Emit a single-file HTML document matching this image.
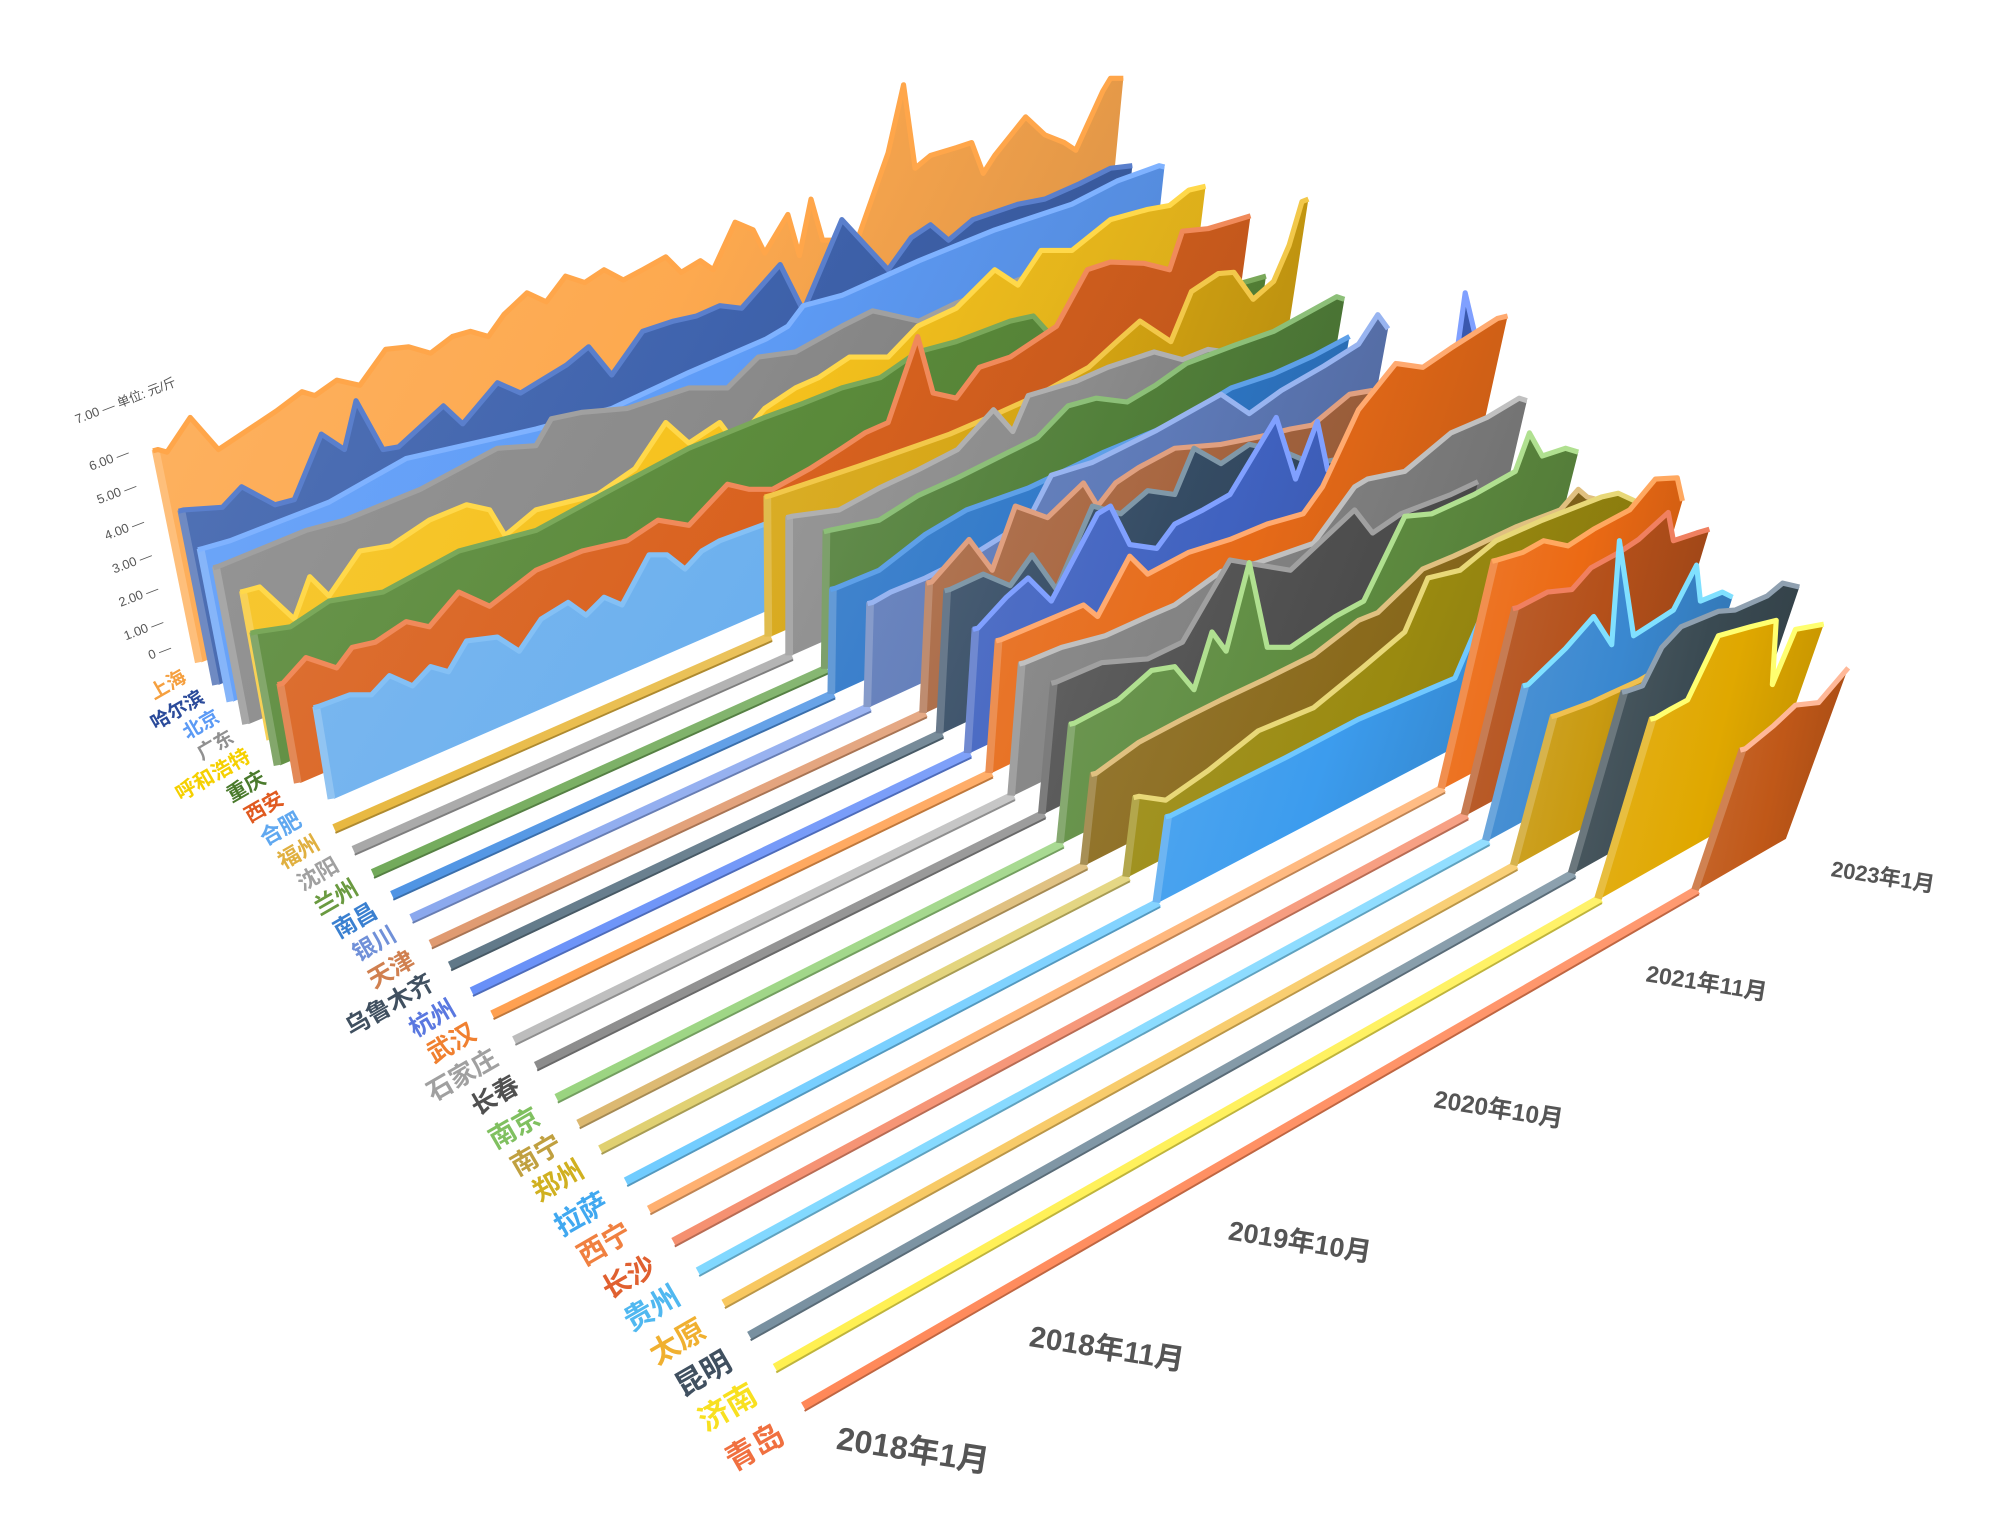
<!DOCTYPE html>
<html><head><meta charset="utf-8">
<style>
html,body{margin:0;padding:0;background:#fff;}
svg{display:block;}
text{font-family:"Liberation Sans","Noto Sans CJK SC",sans-serif;}
</style></head>
<body>
<svg id="c" xmlns="http://www.w3.org/2000/svg" width="2005" height="1522" viewBox="0 0 1560 1185" preserveAspectRatio="none">
<defs id="defs"></defs>
<g id="g"></g>
<g fill="#555" font-size="10">
<text transform="translate(60,330) rotate(-21)">7.00 —  单位: 元/斤</text>
<text text-anchor="end" transform="translate(101,355) rotate(-21)">6.00 —</text>
<text text-anchor="end" transform="translate(107,381) rotate(-21)">5.00 —</text>
<text text-anchor="end" transform="translate(113,409) rotate(-21)">4.00 —</text>
<text text-anchor="end" transform="translate(119,435) rotate(-21)">3.00 —</text>
<text text-anchor="end" transform="translate(124,461) rotate(-21)">2.00 —</text>
<text text-anchor="end" transform="translate(128,487) rotate(-21)">1.00 —</text>
<text text-anchor="end" transform="translate(134,507) rotate(-21)">0 —</text>
</g>
<g fill="#555" font-weight="bold">
<text font-size="25" transform="translate(650,1128) rotate(9)">2018年1月</text>
<text font-size="23" transform="translate(800,1048) rotate(9)">2018年11月</text>
<text font-size="21" transform="translate(955,965) rotate(9)">2019年10月</text>
<text font-size="19" transform="translate(1115,862) rotate(9)">2020年10月</text>
<text font-size="18" transform="translate(1280,764) rotate(9)">2021年11月</text>
<text font-size="17" transform="translate(1424,682) rotate(9)">2023年1月</text>
</g>
<g id="labels" font-weight="bold">
<text fill="#f5a040" font-size="15" text-anchor="end" transform="translate(146,530) rotate(-30)">上海</text>
<text fill="#2a4a9a" font-size="15" text-anchor="end" transform="translate(160,546) rotate(-30)">哈尔滨</text>
<text fill="#5b9af5" font-size="15" text-anchor="end" transform="translate(172,561) rotate(-30)">北京</text>
<text fill="#909090" font-size="15" text-anchor="end" transform="translate(183,577) rotate(-30)">广东</text>
<text fill="#f5d000" font-size="16" text-anchor="end" transform="translate(196,592) rotate(-30)">呼和浩特</text>
<text fill="#4a7a2c" font-size="16" text-anchor="end" transform="translate(208,609) rotate(-30)">重庆</text>
<text fill="#e05a20" font-size="16" text-anchor="end" transform="translate(222,625) rotate(-30)">西安</text>
<text fill="#60a8f0" font-size="17" text-anchor="end" transform="translate(236,642) rotate(-30)">合肥</text>
<text fill="#e0b040" font-size="17" text-anchor="end" transform="translate(250,660) rotate(-30)">福州</text>
<text fill="#a0a0a0" font-size="17" text-anchor="end" transform="translate(265,677) rotate(-30)">沈阳</text>
<text fill="#6a9a40" font-size="18" text-anchor="end" transform="translate(280,695) rotate(-30)">兰州</text>
<text fill="#3a80d0" font-size="18" text-anchor="end" transform="translate(295,713) rotate(-30)">南昌</text>
<text fill="#7090d8" font-size="18" text-anchor="end" transform="translate(310,731) rotate(-30)">银川</text>
<text fill="#d08050" font-size="19" text-anchor="end" transform="translate(324,751) rotate(-30)">天津</text>
<text fill="#405060" font-size="19" text-anchor="end" transform="translate(339,769) rotate(-30)">乌鲁木齐</text>
<text fill="#5a78e0" font-size="19" text-anchor="end" transform="translate(356,789) rotate(-30)">杭州</text>
<text fill="#f08030" font-size="20" text-anchor="end" transform="translate(372,808) rotate(-30)">武汉</text>
<text fill="#a0a0a0" font-size="20" text-anchor="end" transform="translate(389,828) rotate(-30)">石家庄</text>
<text fill="#505050" font-size="20" text-anchor="end" transform="translate(406,849) rotate(-30)">长春</text>
<text fill="#80c060" font-size="21" text-anchor="end" transform="translate(422,874) rotate(-30)">南京</text>
<text fill="#c0a040" font-size="21" text-anchor="end" transform="translate(439,895) rotate(-30)">南宁</text>
<text fill="#d0b020" font-size="21" text-anchor="end" transform="translate(456,915) rotate(-30)">郑州</text>
<text fill="#40a8f0" font-size="22" text-anchor="end" transform="translate(475,941) rotate(-30)">拉萨</text>
<text fill="#f08040" font-size="22" text-anchor="end" transform="translate(493,964) rotate(-30)">西宁</text>
<text fill="#e06030" font-size="22" text-anchor="end" transform="translate(512,990) rotate(-30)">长沙</text>
<text fill="#50b8f0" font-size="23" text-anchor="end" transform="translate(531,1014) rotate(-30)">贵州</text>
<text fill="#f0b030" font-size="23" text-anchor="end" transform="translate(551,1040) rotate(-30)">太原</text>
<text fill="#405060" font-size="23" text-anchor="end" transform="translate(571,1065) rotate(-30)">昆明</text>
<text fill="#f8e020" font-size="24" text-anchor="end" transform="translate(591,1091) rotate(-30)">济南</text>
<text fill="#f07040" font-size="24" text-anchor="end" transform="translate(612,1122) rotate(-30)">青岛</text>
</g>
</svg>
<script>
(function(){
var NS="http://www.w3.org/2000/svg";
var VP=[616,2777];
var S=[[156,516],[173,532],[182,546],[193,564],[210,577],[220,595],[235,609],[246,628],[260,645],[275,662],[290,680],[305,697],[320,715],[335,735],[350,752],[367,772],[383,790],[400,810],[417,830],[433,855],[450,875],[467,895],[487,920],[505,942],[524,967],[543,990],[563,1015],[583,1040],[603,1065],[625,1095]];
var C=[
["#fda94f","#ffa64a",null],["#3f63ad","#5a7fcc",null],["#5e9cf7","#7fb2ff",null],["#8a8a8a","#a0a0a0",null],
["#f6c21d","#ffd84a",null],["#5a8a3a","#7aa85a",null],["#d9621f","#f08a5a",null],["#6cb0ee","#84c0f5",null],
["#d6a512","#f2c84a","#e8b840"],["#8b8b8b","#b0b0b0","#a8a8a8"],["#52803a","#8cbf78","#72aa5a"],["#2f78c8","#5ea0e8","#4f94e4"],
["#5e7ab8","#98b4f0","#8aa8ee"],["#a86640","#e0a080","#e09a70"],["#354c64","#8098a8","#607888"],["#4062c0","#80a0ff","#6890f8"],
["#e66a18","#ffaa70","#ffa050"],["#808080","#c0c0c0","#bdbdbd"],["#505050","#a0a0a0","#8c8c8c"],["#5e8c40","#b0e090","#9ad480"],
["#8a6a1c","#e0c080","#dcb870"],["#9a8a10","#e8d878","#e0d070"],["#3c9cee","#70c8ff","#70ccff"],["#ec6a14","#ffa860","#ffb070"],
["#b4501a","#f08060","#f59070"],["#3a88d0","#80e0ff","#80d8ff"],["#c99a10","#f0c050","#f8c860"],["#3a4a52","#8fa0b0","#7890a0"],
["#e0a800","#ffff70","#fff050"],["#c05818","#ffb898","#ff8858"]];
var P=[
[[123,350],[130,352],[148,325],[170,350],[200,330],[215,320],[235,305],[245,308],[262,296],[280,300],[300,272],[318,270],[335,275],[352,262],[366,258],[380,262],[392,245],[410,228],[425,235],[440,215],[455,220],[470,210],[485,218],[500,210],[518,200],[530,212],[545,203],[555,210],[572,173],[586,179],[595,197],[613,167],[622,199],[631,155],[640,187],[667,187],[691,119],[703,66],[712,131],[724,121],[744,115],[756,111],[765,135],[774,121],[798,91],[813,105],[828,111],[837,117],[858,71],[864,61],[874,61]],
[[143,397],[173,395],[188,379],[214,393],[229,389],[250,338],[268,350],[277,312],[298,350],[310,348],[345,316],[360,330],[387,298],[405,306],[441,284],[458,270],[476,292],[500,258],[524,250],[542,246],[560,238],[577,240],[607,206],[625,242],[655,171],[691,210],[709,185],[724,175],[738,187],[757,171],[792,159],[813,155],[840,143],[864,131],[881,129]],
[[158,427],[179,421],[256,391],[316,357],[417,334],[476,318],[536,290],[596,264],[613,254],[625,238],[655,230],[715,203],[774,179],[834,159],[869,141],[902,129],[906,130]],
[[170,441],[238,413],[268,405],[327,381],[387,349],[417,347],[429,326],[453,321],[488,318],[536,302],[566,302],[590,278],[619,274],[655,254],[679,242],[715,250],[744,236],[800,215],[850,195],[895,170],[910,160],[922,155]],
[[191,460],[202,457],[229,482],[241,449],[256,464],[280,429],[304,425],[334,405],[363,393],[381,397],[393,417],[417,397],[465,385],[494,365],[518,329],[536,345],[560,329],[572,345],[595,318],[619,302],[637,294],[661,278],[691,278],[714,254],[744,240],[774,210],[792,222],[810,195],[834,195],[864,171],[893,163],[910,160],[925,148],[938,145]],
[[199,492],[226,488],[256,468],[298,461],[357,429],[417,413],[476,381],[536,349],[595,325],[625,314],[655,302],[685,294],[714,274],[744,266],[786,250],[804,246],[822,266],[850,255],[900,240],[950,225],[985,215]],
[[220,532],[238,512],[262,520],[274,504],[292,500],[316,484],[334,488],[357,461],[381,472],[417,444],[453,429],[488,421],[512,405],[536,409],[566,377],[583,381],[601,381],[630,365],[655,349],[673,337],[691,329],[714,262],[726,306],[744,310],[762,286],[786,278],[822,254],[846,210],[864,204],[890,205],[910,210],[920,180],[940,178],[960,172],[973,168]],
[[248,550],[272,541],[289,541],[303,526],[321,534],[335,519],[349,523],[363,499],[387,496],[404,507],[421,482],[442,469],[456,479],[470,465],[484,471],[505,432],[519,432],[533,443],[546,429],[560,421],[598,407],[650,385],[700,365],[750,345],[800,325],[850,305],[900,285],[950,265],[990,250]],
[[599,386],[668,363],[739,338],[776,322],[807,308],[847,286],[870,265],[887,250],[911,266],[927,227],[948,213],[960,212],[975,233],[991,219],[1003,191],[1013,157],[1018,155]],
[[616,402],[653,397],[684,380],[714,366],[745,350],[773,319],[788,336],[800,308],[837,297],[862,286],[898,274],[920,280],[940,272],[960,275],[985,262],[1003,255]],
[[645,413],[684,405],[714,386],[745,372],[785,352],[807,341],[831,316],[853,310],[877,313],[899,300],[923,283],[960,269],[991,258],[1022,241],[1040,231],[1046,233]],
[[650,458],[684,444],[720,416],[752,397],[800,380],[859,352],[900,335],[930,319],[958,302],[991,291],[1022,277],[1050,262]],
[[679,469],[693,461],[720,450],[760,430],[800,405],[818,370],[850,360],[900,335],[950,307],[972,322],[997,304],[1030,285],[1057,268],[1072,245],[1080,256]],
[[725,453],[754,420],[772,444],[790,394],[815,403],[843,376],[854,394],[868,376],[886,364],[914,349],[950,346],[980,340],[1004,334],[1021,331],[1050,307],[1068,304]],
[[739,459],[765,447],[786,456],[803,432],[822,459],[850,394],[872,400],[893,382],[914,385],[929,349],[950,361],[972,346],[1000,352],[1021,361],[1039,358]],
[[761,489],[783,465],[800,450],[818,468],[854,400],[864,394],[879,424],[900,427],[914,408],[936,397],[957,385],[993,325],[1008,373],[1025,328],[1033,366],[1060,355],[1100,340],[1130,300],[1140,228],[1148,262]],
[[779,498],[843,471],[854,480],[879,433],[893,447],[925,430],[957,420],[986,408],[1014,400],[1029,379],[1057,319],[1086,283],[1107,286],[1129,271],[1165,248],[1173,246]],
[[797,516],[826,504],[860,495],[893,480],[914,471],[950,445],[979,438],[1022,423],[1054,379],[1064,373],[1093,367],[1129,337],[1157,325],[1182,310],[1188,312]],
[[822,531],[857,516],[893,513],[920,500],[957,436],[980,440],[1004,444],[1054,397],[1068,415],[1090,400],[1129,385],[1150,375]],
[[836,563],[870,545],[896,522],[914,519],[929,537],[943,492],[954,507],[972,438],[986,504],[1004,504],[1039,480],[1061,468],[1093,402],[1114,400],[1147,385],[1179,367],[1190,337],[1200,355],[1218,349],[1228,352]],
[[853,602],[886,578],[920,560],[950,545],[986,528],[1022,510],[1057,483],[1072,477],[1100,450],[1107,443],[1131,433],[1146,426],[1180,410],[1214,397],[1228,381],[1235,387],[1247,390]],
[[886,620],[907,623],[940,600],[979,569],[1022,551],[1060,520],[1093,492],[1111,450],[1136,444],[1164,421],[1200,405],[1246,387],[1259,384],[1272,390]],
[[911,635],[960,610],[1000,590],[1057,560],[1132,528],[1150,486],[1160,470]],
[[1165,436],[1185,430],[1201,421],[1220,425],[1240,412],[1268,397],[1288,373],[1305,372],[1309,390]],
[[1181,473],[1204,461],[1223,459],[1238,442],[1260,430],[1275,420],[1298,399],[1302,421],[1320,415],[1330,412]],
[[1189,533],[1218,505],[1240,480],[1254,502],[1260,421],[1271,495],[1302,475],[1320,440],[1323,468],[1340,461],[1348,465]],
[[1211,557],[1238,547],[1253,540],[1275,530],[1292,520]],
[[1266,538],[1278,534],[1293,504],[1308,488],[1337,476],[1350,475],[1375,464],[1387,454],[1400,457]],
[[1288,559],[1300,552],[1313,545],[1337,495],[1362,488],[1382,483],[1379,533],[1397,490],[1419,486]],
[[1358,583],[1380,565],[1397,549],[1415,547],[1438,520]]
];
function hx(c){return [parseInt(c.substr(1,2),16),parseInt(c.substr(3,2),16),parseInt(c.substr(5,2),16)];}
function mix(c,t,k){var a=hx(c),b=hx(t);return "rgb("+a.map(function(v,i){return Math.round(v+(b[i]-v)*k);}).join(",")+")";}
function el(n,a,p){var e=document.createElementNS(NS,n);for(var k in a)e.setAttribute(k,a[k]);p.appendChild(e);return e;}
var defs=document.getElementById("defs"),g=document.getElementById("g");
for(var i=0;i<30;i++){
  var s=S[i],f=(s[1]-516)/579,m=-0.40-0.178*f;
  var base=function(T){var dx=T[0]-VP[0],dy=T[1]-VP[1];var u=(s[1]+m*(VP[0]-s[0])-VP[1])/(dy-m*dx);return [VP[0]+u*dx,VP[1]+u*dy];};
  var pts=P[i],b0=base(pts[0]),b1=base(pts[pts.length-1]);
  var col=C[i];
  var gr=el("linearGradient",{id:"gr"+i,x1:"0",y1:"0",x2:"1",y2:"0.3"},defs);
  el("stop",{offset:"0","stop-color":mix(col[0],"#ffffff",0.12)},gr);
  el("stop",{offset:"0.6","stop-color":col[0]},gr);
  el("stop",{offset:"1","stop-color":mix(col[0],"#000000",0.12)},gr);
  if(col[2]){
    var fl=el("linearGradient",{id:"fl"+i,gradientUnits:"userSpaceOnUse",x1:s[0],y1:s[1],x2:b0[0],y2:b0[1]},defs);
    el("stop",{offset:"0","stop-color":col[2]},fl);
    el("stop",{offset:"1","stop-color":mix(col[2],"#ffffff",0.15)},fl);
    el("line",{x1:s[0],y1:s[1],x2:b0[0],y2:b0[1],stroke:"url(#fl"+i+")","stroke-width":"7"},g);
    el("line",{x1:s[0]+1,y1:s[1]+3.5,x2:b0[0]+1,y2:b0[1]+3.5,stroke:mix(col[2],"#000000",0.25),"stroke-width":"1.5"},g);
  }
  var d="M"+b0[0].toFixed(1)+","+b0[1].toFixed(1);
  pts.forEach(function(p){d+="L"+p[0]+","+p[1];});
  d+="L"+b1[0].toFixed(1)+","+b1[1].toFixed(1)+"Z";
  el("path",{d:d,fill:"url(#gr"+i+")"},g);
  el("line",{x1:b0[0]-2,y1:b0[1],x2:pts[0][0]-2,y2:pts[0][1],stroke:mix(col[0],"#ffffff",0.25),"stroke-width":"6"},g);
  var t="M"+(pts[0][0]-4)+","+(pts[0][1]+1);
  pts.forEach(function(p){t+="L"+p[0]+","+p[1];});
  el("path",{d:t,fill:"none",stroke:col[1],"stroke-width":"4","stroke-linejoin":"round"},g);
}
})();
</script>
</body></html>
